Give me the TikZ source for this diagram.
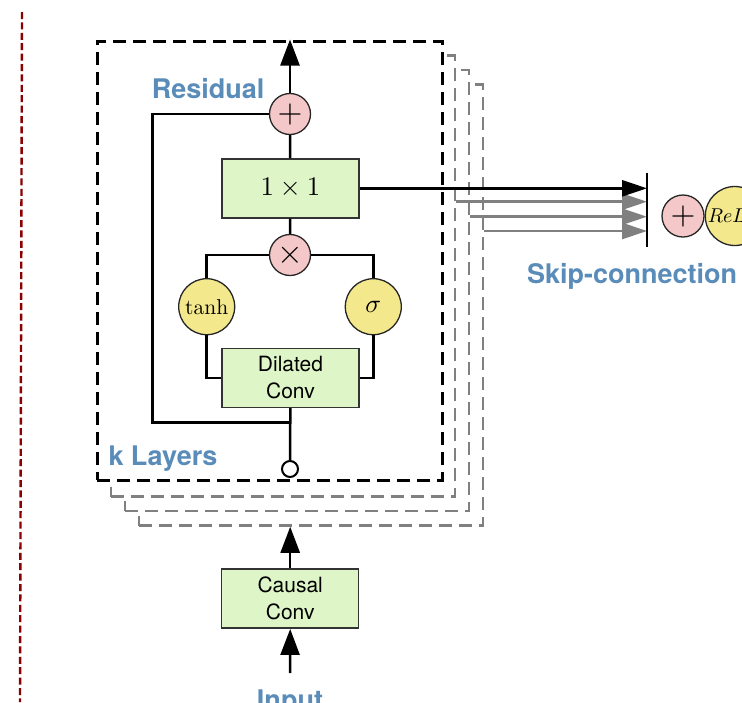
\documentclass[tikz,border=0pt]{standalone}
\usepackage{graphicx}
\usepackage{fontspec}
\setsansfont{TeX Gyre Heros}
\usetikzlibrary{arrows.meta}
\definecolor{boxgreen}{RGB}{222,245,200}
\definecolor{pinkc}{RGB}{244,200,200}
\definecolor{yellowc}{RGB}{244,232,140}
\definecolor{labelblue}{RGB}{90,140,185}
\definecolor{redline}{RGB}{139,0,0}
\definecolor{grayline}{RGB}{128,128,128}
\tikzset{
  blk/.style={draw=black!80, fill=boxgreen, line width=1.5pt, minimum width=137pt, minimum height=59pt, inner sep=0pt, font=\fontsize{21}{27}\selectfont\sffamily, align=center},
  opc/.style={circle, draw=black!85, fill=pinkc, line width=1.3pt, minimum size=41pt, inner sep=0pt, font=\fontsize{10}{12}\selectfont},
  actc/.style={circle, draw=black!85, fill=yellowc, line width=1.3pt, minimum size=56pt, inner sep=0pt, font=\fontsize{10}{12}\selectfont},
  lbl/.style={text=labelblue, font=\fontsize{27}{30}\selectfont\sffamily\bfseries, inner sep=0pt},
  wire/.style={line width=2.5pt, draw=black},
  bigarrow/.style={wire, -{Triangle[length=26pt,width=19pt]}},
  skiparrow/.style={line width=2.7pt, -{Triangle[length=25pt,width=16pt]}},
  layerbox/.style={rectangle, inner sep=0pt, line width=3pt, dash pattern=on 13pt off 7pt, fill=white},
  graybox/.style={layerbox, draw=grayline, line width=2.5pt, minimum width=344pt, minimum height=441pt},
}
\begin{document}
\begin{tikzpicture}[x=1pt,y=-1pt]
\useasboundingbox (0,0) rectangle (742,702);
\clip (0,0) rectangle (742,702);
\fill[white] (0,0) rectangle (742,702);
\coordinate (rtop) at (22,12);
\coordinate (rbot) at (20,702);
\draw[redline, line width=2.4pt, dash pattern=on 7pt off 3.4pt] (rtop) -- (rbot);

% stacked layer frames
\node[graybox] (G3) at (311,305) {};
\node[graybox] (G2) at (297,290.5) {};
\node[graybox] (G1) at (283,276) {};
\node[layerbox, draw=black, minimum width=345pt, minimum height=439pt] (L0) at (269.5,260.5) {};

% layer content
\node[opc] (plus) at (290,114) {\scalebox{3.2}{$+$}};
\node[blk, font=\fontsize{10}{12}\selectfont] (one) at (290.4,188.3) {\scalebox{2.68}{$1\times1$}};
\node[opc] (times) at (290,255) {\scalebox{3.3}{$\times$}};
\node[actc] (tanh) at (206.7,306.7) {\scalebox{2.15}{$\tanh$}};
\node[actc] (sig) at (373.3,306.7) {\scalebox{2.6}{$\sigma$}};
\node[blk] (dil) at (290.5,377.8) {Dilated\\Conv};
\node[circle, draw=black, line width=2pt, fill=white, minimum size=16pt, inner sep=0pt] (inp) at (290,469) {};
\coordinate (resj) at (290,422.3);
\coordinate (resc) at (152.3,422.3);

\draw[wire] (dil) -- (inp);
\draw[wire] (resj) -- (resc) |- (plus.west);
\draw[wire] (dil.west) -| (tanh.south);
\draw[wire] (dil.east) -| (sig.south);
\draw[wire] (tanh.north) |- (times.west);
\draw[wire] (sig.north) |- (times.east);
\draw[wire] (times) -- (one);
\draw[wire] (one) -- (plus);
\draw[bigarrow] (plus.north) -- (plus.north |- L0.north);

% skip connections
\coordinate (bartop) at (647,172.7);
\coordinate (barbot) at (647,246.7);
\draw[skiparrow, grayline] (G1.east |- 0,201.7) -- (bartop |- 0,201.7);
\draw[skiparrow, grayline] (G2.east |- 0,216.7) -- (bartop |- 0,216.7);
\draw[skiparrow, grayline] (G3.east |- 0,231) -- (bartop |- 0,231);
\draw[skiparrow, black] (one.east) -- (one.east -| bartop);
\draw[line width=2.5pt] (bartop) -- (barbot);
\node[opc, minimum size=42pt] (sumall) at (683,216) {\scalebox{3.2}{$+$}};
\node[actc, minimum size=59pt, anchor=west] (relu) at (sumall.east) {\scalebox{2.0}{$ReLU$}};

% input
\node[blk] (causal) at (290.2,598.7) {Causal\\Conv};
\coordinate (instart) at (290,673);
\draw[bigarrow] (instart) -- (causal.south);
\draw[bigarrow] (causal.north) -- (causal.north |- G3.south);

% labels
\node[lbl, anchor=base west] (res) at (151.7,98) {Residual};
\node[lbl, anchor=base west] (klay) at (108.3,465) {k Layers};
\node[lbl, anchor=base west] (skip) at (527,283) {Skip-connection};
\node[lbl, anchor=base] (input) at (290,709) {Input};
\end{tikzpicture}
\end{document}
